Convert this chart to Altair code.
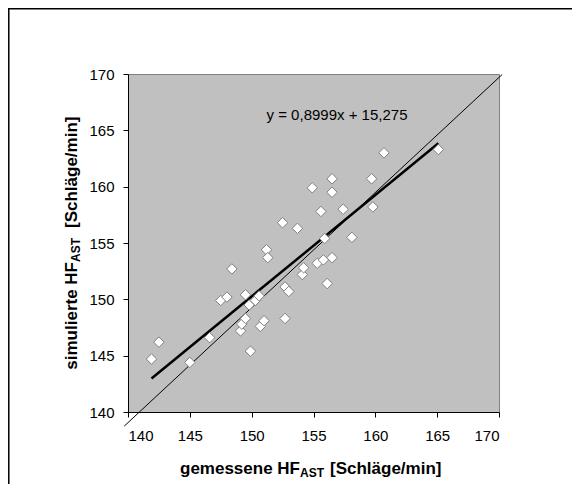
import altair as alt
import pandas as pd

# measured heart rate (x) and simulated heart rate (y)
measured = [141.9, 142.5, 145.0, 146.6, 147.5, 148.0, 148.4, 149.1, 149.2, 149.5,
            149.5, 149.8, 149.9, 150.3, 150.6, 150.7, 151.0, 151.2, 151.3, 152.5,
            152.7, 152.7, 153.0, 153.7, 154.1, 154.2, 154.9, 155.3, 155.6, 155.8,
            155.9, 156.1, 156.5, 156.5, 156.5, 157.4, 158.1, 159.7, 159.8, 160.7,
            165.1]
simulated = [144.7, 146.2, 144.4, 146.6, 149.9, 150.2, 152.7, 147.2, 147.8, 150.4,
             148.3, 149.5, 145.4, 149.9, 150.3, 147.6, 148.1, 154.4, 153.7, 156.8,
             148.3, 151.1, 150.7, 156.3, 152.2, 152.8, 159.9, 153.2, 157.8, 153.5,
             155.4, 151.4, 160.7, 159.5, 153.7, 158.0, 155.5, 160.7, 158.2, 163.0,
             163.3]

slope = 0.8999
intercept = 15.275
equation = "y = 0,8999x + 15,275"
eq_pos = [156.9, 166.4]

# reference (bisecting) line end points as drawn
ref_x = [139.7, 170.25]
ref_y = [138.75, 169.95]

# outer frame corner path (left and top edge of the picture frame)
frame_x = [130.36, 130.36, 185.0]
frame_y = [125.0, 175.79, 175.79]

ticks = [140, 145, 150, 155, 160, 165, 170]

FONT = "Liberation Sans, Arial, sans-serif"

pts = pd.DataFrame({"x": measured, "y": simulated})
xmin, xmax = min(measured), max(measured)
reg = pd.DataFrame({"x": [xmin, xmax],
                    "y": [slope * xmin + intercept, slope * xmax + intercept]})
ref = pd.DataFrame({"x": ref_x, "y": ref_y})
frm = pd.DataFrame({"x": frame_x, "y": frame_y, "o": [0, 1, 2]})
eq = pd.DataFrame({"x": [eq_pos[0]], "y": [eq_pos[1]], "t": [equation]})
one = pd.DataFrame({"a": [0]})

xs = alt.Scale(domain=[140, 170], nice=False, zero=False)
ys = alt.Scale(domain=[140, 170], nice=False, zero=False)

xaxis = alt.Axis(values=ticks, title=None, grid=False, domainColor="black",
                 tickColor="black", tickSize=5, labelFont=FONT, labelFontSize=15,
                 labelColor="black", labelPadding=11)
yaxis = alt.Axis(values=ticks, title=None, grid=False, domainColor="black",
                 tickColor="black", tickSize=5, labelFont=FONT, labelFontSize=15,
                 labelColor="black", labelPadding=9)

base = alt.Chart(pts).mark_point(
    shape="diamond", filled=True, fill="white", stroke="#808080",
    strokeWidth=1, size=110, opacity=1
).encode(
    x=alt.X("x:Q", scale=xs, axis=xaxis),
    y=alt.Y("y:Q", scale=ys, axis=yaxis),
)

ref_line = alt.Chart(ref).mark_line(color="black", strokeWidth=1, clip=False).encode(
    x=alt.X("x:Q", scale=xs), y=alt.Y("y:Q", scale=ys))

reg_line = alt.Chart(reg).mark_line(color="black", strokeWidth=2.5).encode(
    x=alt.X("x:Q", scale=xs), y=alt.Y("y:Q", scale=ys))

frame_line = alt.Chart(frm).mark_line(color="black", strokeWidth=1.5, clip=False).encode(
    x=alt.X("x:Q", scale=xs), y=alt.Y("y:Q", scale=ys), order="o:Q")

eq_text = alt.Chart(eq).mark_text(font=FONT, fontSize=15, color="black",
                                  align="center", baseline="middle").encode(
    x=alt.X("x:Q", scale=xs), y=alt.Y("y:Q", scale=ys), text="t:N")

# axis titles with subscript parts
def txt(s, x, y, size, align, angle=0):
    return alt.Chart(one).mark_text(
        text=s, font=FONT, fontSize=size, fontWeight="bold", color="black",
        align=align, baseline="alphabetic", angle=angle
    ).encode(x=alt.value(x), y=alt.value(y))

xt1 = txt("gemessene HF", 172, 400, 17, "right")
xt2 = txt("AST", 172, 403, 12, "left")
xt3 = txt("[Schläge/min]", 202, 400, 17, "left")

yt1 = txt("simulierte HF", -51.5, 188, 17, "right", 270)
yt2 = txt("AST", -48.5, 188, 12, "left", 270)
yt3 = txt("[Schläge/min]", -51.5, 154, 17, "left", 270)

chart = alt.layer(
    ref_line, reg_line, base, eq_text, frame_line,
    xt1, xt2, xt3, yt1, yt2, yt3
).properties(
    width=371, height=338,
    padding={"left": 120, "top": 66, "right": 73, "bottom": 72},
    autosize=alt.AutoSizeParams(type="none"),
    background="white",
).configure_view(
    fill="#C0C0C0", stroke="#808080", strokeWidth=1
)

chart.save("out.html", embed_options={"renderer": "svg", "actions": False})
